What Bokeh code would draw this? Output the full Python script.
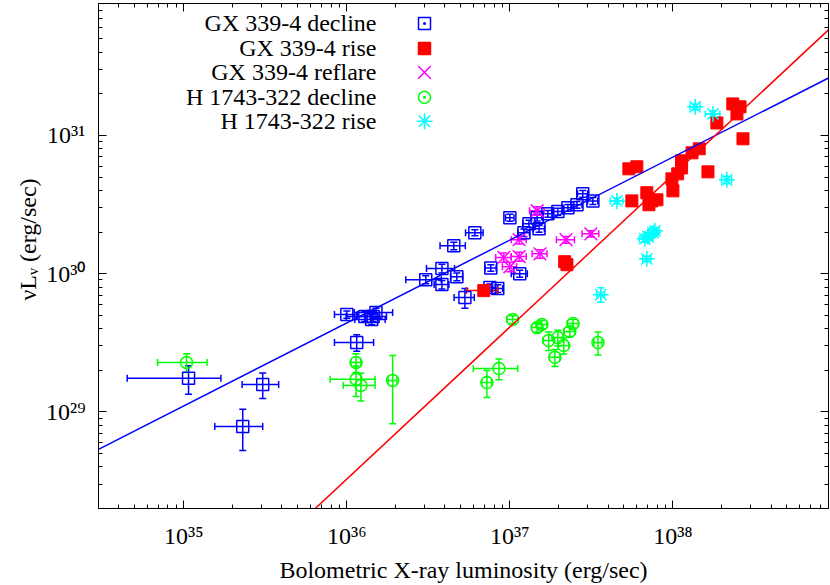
import numpy as np
from bokeh.plotting import figure
from bokeh.models import (Range1d, LogAxis, LogTicker, Whisker, TeeHead, ColumnDataSource,
                          CustomJSTickFormatter, Label, Title)
from bokeh.embed import file_html
from bokeh.resources import INLINE

# ---------------- data ----------------
# GX 339-4 decline
gxd_x = [1.07e35, 3.05e35, 2.30e35, 1.00e36, 1.29e36, 1.45e36, 1.51e36, 1.42e36, 1.15e36,
         3.05e36, 3.83e36, 3.83e36, 4.73e36, 4.53e36, 6.10e36, 5.30e36, 7.64e36, 7.54e36,
         8.43e36, 1.00e37, 1.15e37, 1.22e37, 1.31e37, 1.51e37, 1.47e37, 1.71e37, 1.97e37,
         2.27e37, 2.58e37, 2.80e37, 3.23e37]
gxd_y = [1.75e29, 1.58e29, 7.85e28, 5.06e29, 4.90e29, 4.90e29, 5.23e29, 4.66e29, 3.18e29,
         9.05e29, 1.09e30, 8.33e29, 9.50e29, 1.59e30, 1.98e30, 6.71e29, 1.10e30, 7.93e29,
         7.80e29, 2.54e30, 1.00e30, 1.98e30, 2.30e30, 2.11e30, 2.54e30, 2.71e30, 2.81e30,
         3.00e30, 3.15e30, 3.78e30, 3.36e30]
gxd_xerr = [6.2e34, 7.7e34, 7.5e34, 1.6e35, 3.0e35, 3.0e35, 4.0e35, 3.0e35, 3.1e35,
            7.5e35, 7.5e35, 4.0e35, 4.0e35, 8.0e35, 7.5e35, 7.5e35, 6.0e35, 6.0e35,
            6.0e35, 6.0e35, 1.3e36, 1.0e36, 1.1e36, 1.2e36, 1.2e36, 1.3e36, 1.5e36,
            1.7e36, 1.9e36, 2.0e36, 2.3e36]
gxd_yerr = [4.1e28, 3.3e28, 2.6e28, 3.0e28, 4.0e28, 4.0e28, 4.0e28, 4.0e28, 4.3e28,
            6.0e28, 8.0e28, 6.0e28, 6.0e28, 1.0e29, 1.0e29, 1.1e29, 6.0e28, 5.0e28,
            5.0e28, 1.5e29, 6.0e28, 1.2e29, 1.3e29, 1.2e29, 1.4e29, 1.5e29, 1.6e29,
            1.7e29, 1.8e29, 2.1e29, 1.9e29]

# GX 339-4 rise
gxr_x = [6.92e36, 2.17e37, 2.24e37, 5.37e37, 6.01e37, 5.60e37, 6.92e37, 7.43e37, 7.98e37,
         7.13e37, 1.00e38, 9.86e37, 1.13e38, 1.13e38, 1.31e38, 1.45e38, 1.64e38, 1.86e38,
         2.33e38, 2.58e38, 2.47e38, 2.69e38, 1.07e38]
gxr_y = [7.54e29, 1.22e30, 1.16e30, 5.73e30, 5.93e30, 3.36e30, 3.85e30, 3.36e30, 3.42e30,
         3.15e30, 3.97e30, 4.85e30, 5.82e30, 6.55e30, 7.48e30, 8.00e30, 5.45e30, 1.23e31,
         1.69e31, 1.61e31, 1.43e31, 9.45e30, 5.27e30]
gxr_xerr = [1.5e36] + [0.0] * 22
gxr_yerr = [0.0] * 23

# GX 339-4 reflare
gxf_x = [1.47e37, 1.14e37, 9.18e36, 1.00e37, 1.14e37, 1.53e37, 2.21e37, 3.14e37]
gxf_y = [2.85e30, 1.76e30, 1.31e30, 1.12e30, 1.33e30, 1.39e30, 1.76e30, 1.94e30]
gxf_xerr = [1.5e36, 1.2e36, 1.0e36, 1.0e36, 1.2e36, 1.6e36, 2.8e36, 3.7e36]
gxf_yerr = [2.0e29, 1.2e29, 1.0e29, 9.0e28, 1.0e29, 1.0e29, 1.0e29, 1.0e29]

# H 1743-322 decline
hd_x = [1.04e35, 1.14e36, 1.14e36, 1.22e36, 1.91e36, 1.04e37, 1.47e37, 1.57e37, 1.73e37,
        1.97e37, 2.14e37, 2.33e37, 2.44e37, 1.89e37, 3.47e37, 8.57e36, 7.23e36]
hd_y = [2.28e29, 2.28e29, 1.72e29, 1.55e29, 1.69e29, 4.66e29, 4.07e29, 4.29e29, 3.28e29,
        3.45e29, 3.02e29, 3.81e29, 4.35e29, 2.48e29, 3.18e29, 2.06e29, 1.63e29]
hd_xerr = [3.5e34, 8.0e34, 3.5e35, 2.7e35, 1.2e35, 8.0e35, 1.1e36, 1.2e36, 1.3e36,
           1.5e36, 1.6e36, 1.8e36, 1.9e36, 1.4e36, 2.0e36, 2.6e36, 5.0e35]
hd_yerr = [3.5e28, 3.5e28, 4.3e28, 3.5e28, 8.7e28, 3.0e28, 3.0e28, 3.0e28, 5.0e28,
           4.5e28, 4.0e28, 3.0e28, 3.0e28, 3.5e28, 6.0e28, 3.5e28, 3.6e28]

# H 1743-322 rise
hr_x = [4.53e37, 3.61e37, 6.73e37, 7.54e37, 7.03e37, 7.76e37, 6.92e37, 1.37e38, 1.76e38, 2.14e38]
hr_y = [3.36e30, 7.05e29, 1.79e30, 1.98e30, 1.85e30, 2.04e30, 1.28e30, 1.61e31, 1.43e31, 4.77e30]
hr_xerr = [4.0e36, 2.0e36, 5.0e36, 5.0e36, 5.0e36, 5.0e36, 4.0e36, 1.0e37, 1.8e37, 1.5e37]
hr_yerr = [1.5e29, 8.5e28, 1.0e29, 1.2e29, 1.0e29, 1.2e29, 6.0e28, 8.0e29, 8.0e29, 3.0e29]

series_names = ["GX 339-4 decline", "GX 339-4 rise", "GX 339-4 reflare",
                "H 1743-322 decline", "H 1743-322 rise"]

# power-law fits: (normalisation at 1e37 erg/s, slope)
fit_decline = (1.75e30, 0.60)
fit_rise = (4.11e29, 1.10)
fit_x = [3e34, 9e38]

x_range = (3e34, 9e38)
y_range = (2e28, 9e31)

# ---------------- layout constants (pixels) ----------------
W, H = 830, 585
B_LEFT, B_RIGHT, B_TOP, B_BOTTOM = 98, 2, 3, 76
FRAME_W = W - B_LEFT - B_RIGHT
FRAME_H = H - B_TOP - B_BOTTOM
LEG_TEXT_X = 278            # right edge of legend texts, from frame left
LEG_KEY_X = 326             # legend key centre, from frame left
LEG_ROWS = [20, 45, 69, 94, 118]   # row centres, from frame top
YLABEL_OFFSET = 208         # start of the y label, above the frame bottom

# ---------------- figure ----------------
FONT = "Liberation Serif"
p = figure(width=W, height=H, x_axis_type="log", y_axis_type="log",
           x_range=Range1d(*x_range), y_range=Range1d(*y_range),
           output_backend="svg", toolbar_location=None,
           min_border_left=B_LEFT, min_border_right=B_RIGHT,
           min_border_top=B_TOP, min_border_bottom=B_BOTTOM)
p.grid.visible = False
p.outline_line_color = "black"
p.background_fill_color = "white"
p.border_fill_color = "white"

sup_code = """
const s = {"0":"⁰","1":"¹","2":"²","3":"³","4":"⁴","5":"⁵","6":"⁶","7":"⁷","8":"⁸","9":"⁹","-":"⁻"};
const e = Math.round(Math.log10(tick));
return "10" + String(e).split("").map(c => s[c]).join("");
"""


def style_axis(ax):
    ax.ticker = LogTicker(num_minor_ticks=10)
    ax.axis_line_color = "black"
    ax.axis_line_width = 1
    ax.major_tick_in = 8
    ax.major_tick_out = 0
    ax.minor_tick_in = 4
    ax.minor_tick_out = 0
    ax.major_tick_line_color = "black"
    ax.minor_tick_line_color = "black"
    ax.major_label_text_font = FONT
    ax.major_label_text_font_size = "24px"
    ax.major_label_text_color = "black"


for ax in (p.xaxis[0], p.yaxis[0]):
    style_axis(ax)
    ax.formatter = CustomJSTickFormatter(code=sup_code)
    ax.axis_label_text_font = FONT
    ax.axis_label_text_font_size = "24px"
    ax.axis_label_text_font_style = "normal"
    ax.axis_label_text_color = "black"

p.xaxis[0].major_label_standoff = 14
p.xaxis[0].axis_label = "Bolometric X-ray luminosity (erg/sec)"
p.xaxis[0].axis_label_standoff = 5
p.yaxis[0].major_label_standoff = 13

for place in ("above", "right"):
    ax = LogAxis(formatter=CustomJSTickFormatter(code="return ''"), major_label_standoff=0)
    style_axis(ax)
    ax.major_label_text_font_size = "1px"
    p.add_layout(ax, place)

# y-axis title (as a left-side title so that it can sit where the original one does)
p.add_layout(Title(text="νLᵥ (erg/sec)", align="left", offset=YLABEL_OFFSET,
                   text_font=FONT, text_font_size="24px", text_font_style="normal",
                   text_color="black", standoff=4), "left")


# ---------------- error bars and points ----------------
def errbars(x, y, xe, ye, color):
    x = np.array(x); y = np.array(y); xe = np.array(xe); ye = np.array(ye)
    mx = xe > 0
    if mx.any():
        src = ColumnDataSource(dict(y=y[mx], lo=x[mx] - xe[mx], hi=x[mx] + xe[mx]))
        p.add_layout(Whisker(source=src, base="y", lower="lo", upper="hi", dimension="width",
                             line_color=color, line_width=1.5,
                             upper_head=TeeHead(size=7, line_color=color, line_width=1.5),
                             lower_head=TeeHead(size=7, line_color=color, line_width=1.5)))
    my = ye > 0
    if my.any():
        src = ColumnDataSource(dict(x=x[my], lo=y[my] - ye[my], hi=y[my] + ye[my]))
        p.add_layout(Whisker(source=src, base="x", lower="lo", upper="hi", dimension="height",
                             line_color=color, line_width=1.5,
                             upper_head=TeeHead(size=7, line_color=color, line_width=1.5),
                             lower_head=TeeHead(size=7, line_color=color, line_width=1.5)))


BLUE, RED, MAG, GREEN, CYAN = "#0000ff", "#ff0000", "#ff00ff", "#00ff00", "#00ffff"

errbars(gxd_x, gxd_y, gxd_xerr, gxd_yerr, BLUE)
errbars(gxr_x, gxr_y, gxr_xerr, gxr_yerr, RED)
errbars(gxf_x, gxf_y, gxf_xerr, gxf_yerr, MAG)
errbars(hd_x, hd_y, hd_xerr, hd_yerr, GREEN)
errbars(hr_x, hr_y, hr_xerr, hr_yerr, CYAN)

p.scatter(gxd_x, gxd_y, marker="square", size=12, line_color=BLUE, fill_color=None, line_width=1.5)
p.scatter(gxr_x, gxr_y, marker="square", size=12, line_color=RED, fill_color=RED, line_width=1)
p.scatter(gxf_x, gxf_y, marker="x", size=18, line_color=MAG, line_width=1.5)
p.scatter(hd_x, hd_y, marker="circle", size=12, line_color=GREEN, fill_color=None, line_width=1.5)
p.scatter(hr_x, hr_y, marker="asterisk", size=16, line_color=CYAN, line_width=1.5)

# fit lines
fx = np.array(fit_x)
p.line(fx, fit_decline[0] * (fx / 1e37) ** fit_decline[1], line_color=BLUE, line_width=1.5)
p.line(fx, fit_rise[0] * (fx / 1e37) ** fit_rise[1], line_color=RED, line_width=1.5)

# ---------------- legend (text right-aligned, key to the right) ----------------
lx0, lx1 = np.log10(x_range)
ly0, ly1 = np.log10(y_range)
key_x = 10 ** (lx0 + LEG_KEY_X / FRAME_W * (lx1 - lx0))
legend_keys = [("square_dot", BLUE, None, 12), ("square", RED, RED, 12), ("x", MAG, None, 18),
               ("circle_dot", GREEN, None, 12), ("asterisk", CYAN, None, 16)]
for name, (mk, col, fill, sz), row in zip(series_names, legend_keys, LEG_ROWS):
    p.add_layout(Label(x=LEG_TEXT_X, y=FRAME_H - row, x_units="screen", y_units="screen",
                       text=name, text_align="right", text_baseline="middle", text_font=FONT,
                       text_font_size="24px", text_color="black"))
    key_y = 10 ** (ly1 - row / FRAME_H * (ly1 - ly0))
    p.scatter([key_x], [key_y], marker=mk, size=sz, line_color=col, fill_color=fill, line_width=1.5)

open("out.html", "w").write(file_html(p, INLINE))
